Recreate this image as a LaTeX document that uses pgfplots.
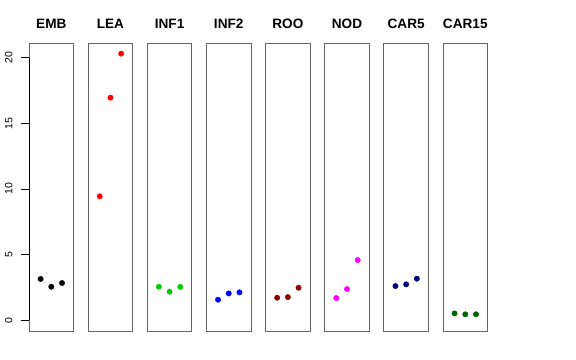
\documentclass[border=0pt]{standalone}
\usepackage{fontspec}
\setmainfont{Liberation Sans}
\usepackage{pgfplots}
\pgfplotsset{compat=1.18}
\definecolor{rgreen}{HTML}{00CD00}
\definecolor{rdarkred}{HTML}{8B0000}
\definecolor{rnavy}{HTML}{000080}
\definecolor{rdarkgreen}{HTML}{006400}
\definecolor{rmagenta}{HTML}{FF00FF}
\definecolor{rred}{HTML}{FF0000}
\definecolor{rblue}{HTML}{0000FF}
\pgfplotsset{panel/.style={scale only axis, width=44.6bp, height=288bp,
  xmin=-0.083, xmax=4.083, ymin=-0.81, ymax=21.11,
  xtick=\empty, ytick=\empty, anchor=south west,
  axis line style={black!60, line width=0.8bp},
  title style={at={(0.5,1)}, anchor=base, yshift=8.7bp, inner sep=0pt,
    font=\fontsize{13.6bp}{16bp}\selectfont\bfseries}},
  pts/.style={only marks, mark=*, mark size=2.7bp, #1}}
\begin{document}
\begin{tikzpicture}
\path[use as bounding box] (0,0) rectangle (576bp,360bp);
\begin{axis}[panel, at={(29bp,29bp)}, title={EMB},
  ytick={0,5,10,15,20}, ytick pos=left, tick align=outside,
  major tick length=8.3bp,
  every tick/.style={black, line width=0.8bp},
  /pgf/number format/assume math mode=true,
  yticklabel style={xshift=-8bp, rotate=90, anchor=south, inner sep=0pt,
    font=\fontsize{10.5bp}{12bp}\selectfont}]
\draw[black, line width=0.8bp] (-0.083,0) -- (-0.083,20);
\addplot[pts=black] coordinates {(1,3.15) (2,2.56) (3,2.84)};
\end{axis}
\begin{axis}[panel, at={(88.14bp,29bp)}, title={LEA}]
\addplot[pts=rred] coordinates {(1,9.44) (2,16.95) (3,20.3)};
\end{axis}
\begin{axis}[panel, at={(147.28bp,29bp)}, title={INF1}]
\addplot[pts=rgreen] coordinates {(1,2.56) (2,2.18) (3,2.54)};
\end{axis}
\begin{axis}[panel, at={(206.42bp,29bp)}, title={INF2}]
\addplot[pts=rblue] coordinates {(1,1.57) (2,2.05) (3,2.13)};
\end{axis}
\begin{axis}[panel, at={(265.56bp,29bp)}, title={ROO}]
\addplot[pts=rdarkred] coordinates {(1,1.72) (2,1.77) (3,2.48)};
\end{axis}
\begin{axis}[panel, at={(324.7bp,29bp)}, title={NOD}]
\addplot[pts=rmagenta] coordinates {(1,1.70) (2,2.38) (3,4.59)};
\end{axis}
\begin{axis}[panel, at={(383.84bp,29bp)}, title={CAR5}]
\addplot[pts=rnavy] coordinates {(1,2.61) (2,2.74) (3,3.17)};
\end{axis}
\begin{axis}[panel, at={(442.98bp,29bp)}, title={CAR15}]
\addplot[pts=rdarkgreen] coordinates {(1,0.53) (2,0.46) (3,0.46)};
\end{axis}
\end{tikzpicture}
\end{document}
